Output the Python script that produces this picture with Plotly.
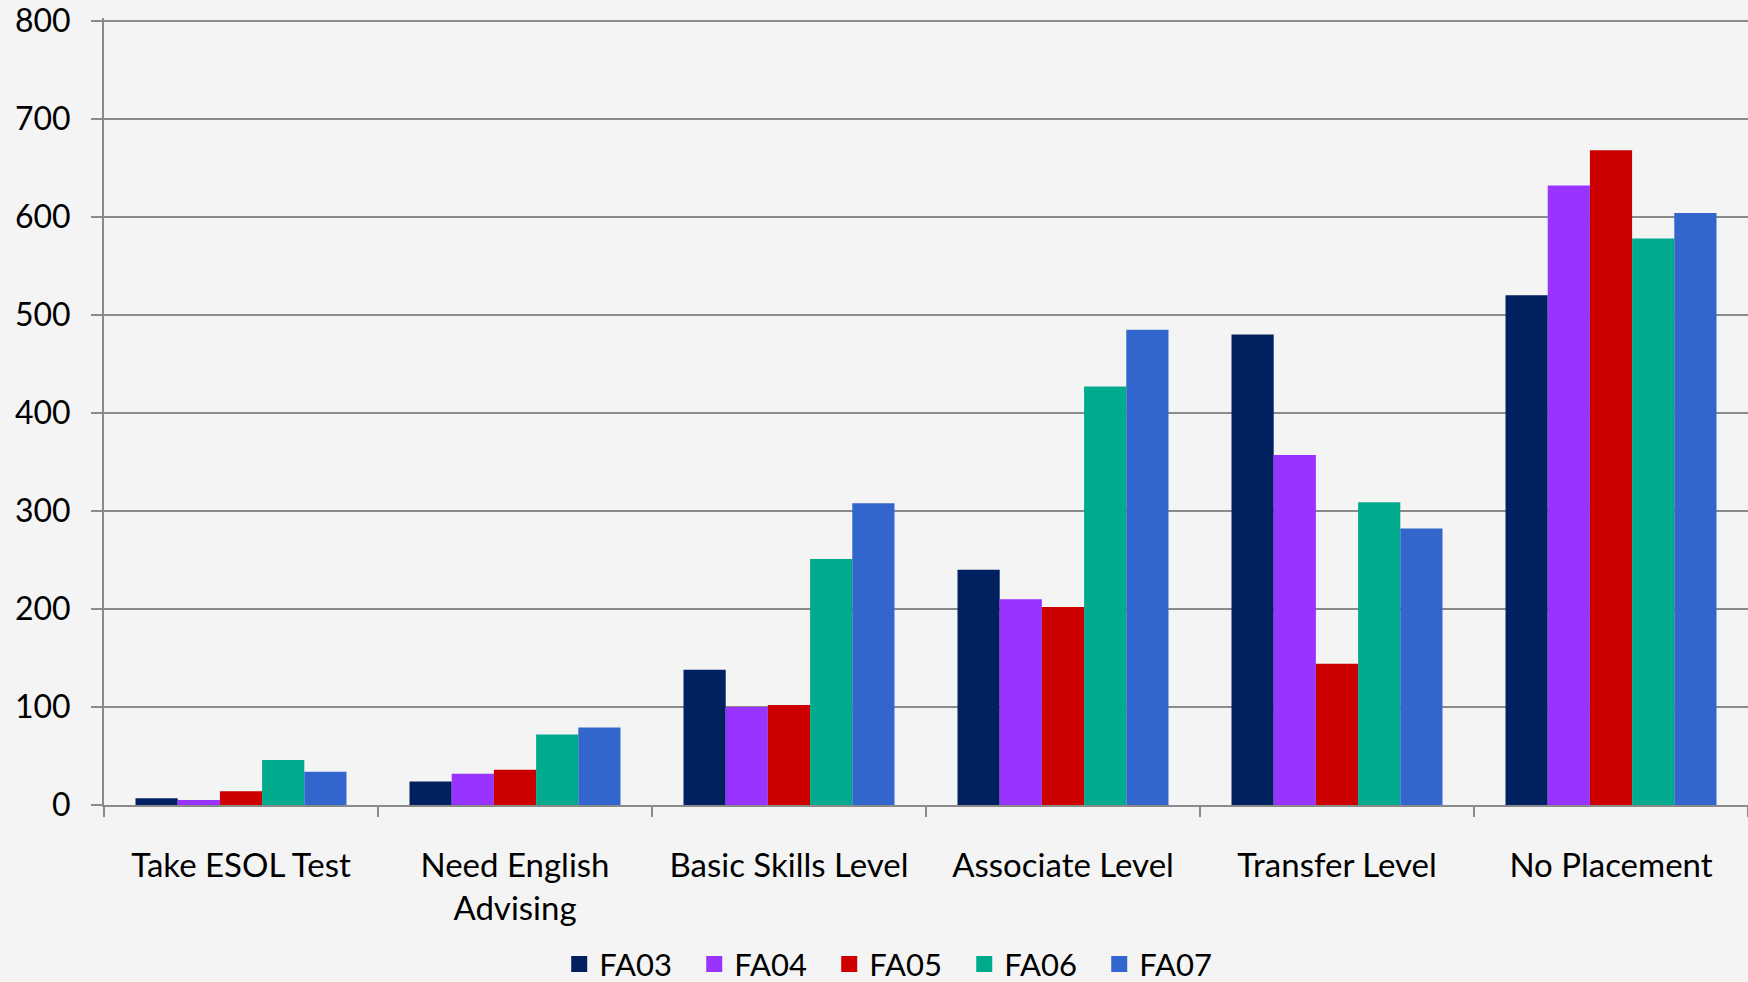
import plotly.graph_objects as go

# categories and series
categories = ['Take ESOL Test', 'Need English<br>Advising', 'Basic Skills Level',
              'Associate Level', 'Transfer Level', 'No Placement']
series_names = ['FA03', 'FA04', 'FA05', 'FA06', 'FA07']
fa03 = [7, 24, 138, 240, 480, 520]
fa04 = [5, 32, 100, 210, 357, 632]
fa05 = [14, 36, 102, 202, 144, 668]
fa06 = [46, 72, 251, 427, 309, 578]
fa07 = [34, 79, 308, 485, 282, 604]
colors = ['#002060', '#9933FF', '#CC0000', '#00AA8C', '#3366CC']

font_family = 'Lato, Open Sans, sans-serif'
bg = '#f4f4f4'

fig = go.Figure()
for name, vals, col in zip(series_names, [fa03, fa04, fa05, fa06, fa07], colors):
    fig.add_trace(go.Bar(
        x=categories,
        y=vals,
        name=name,
        marker=dict(color=col, line=dict(width=0)),
        showlegend=False,
    ))
    # legend entry with a bigger square swatch
    fig.add_trace(go.Scatter(
        x=[None], y=[None],
        mode='markers',
        name=name,
        marker=dict(symbol='square', size=17, color=col),
    ))

fig.update_layout(
    width=1748,
    height=982,
    barmode='group',
    bargap=0.23,
    bargroupgap=0,
    plot_bgcolor=bg,
    paper_bgcolor=bg,
    margin=dict(l=104, r=0, t=18, b=177),
    font=dict(family=font_family, size=33, color='black'),
    legend=dict(
        orientation='h',
        xref='container', yref='container',
        x=0.513, xanchor='center',
        y=0.018, yanchor='middle',
        font=dict(size=31),
        bgcolor='rgba(0,0,0,0)',
        entrywidth=90,
        itemwidth=30,
    ),
    xaxis=dict(
        type='category',
        showgrid=False,
        showline=True,
        linecolor='#8a8a8a',
        linewidth=2,
        ticks='outside',
        tickson='boundaries',
        ticklen=10,
        tickcolor='#8a8a8a',
        tickwidth=2,
        ticklabelstandoff=30,
        tickfont=dict(size=33),
    ),
    yaxis=dict(
        range=[0, 803],
        dtick=100,
        showgrid=True,
        gridcolor='#8a8a8a',
        gridwidth=2,
        zeroline=False,
        showline=True,
        linecolor='#8a8a8a',
        linewidth=2,
        ticks='outside',
        ticklen=11,
        tickcolor='#8a8a8a',
        tickwidth=2,
        ticklabelstandoff=14,
        tickfont=dict(size=32),
    ),
)

fig.write_html(
    "out.html",
    config={'displayModeBar': False},
    post_script="document.body.style.margin='0';document.body.style.background='%s';" % bg,
)
